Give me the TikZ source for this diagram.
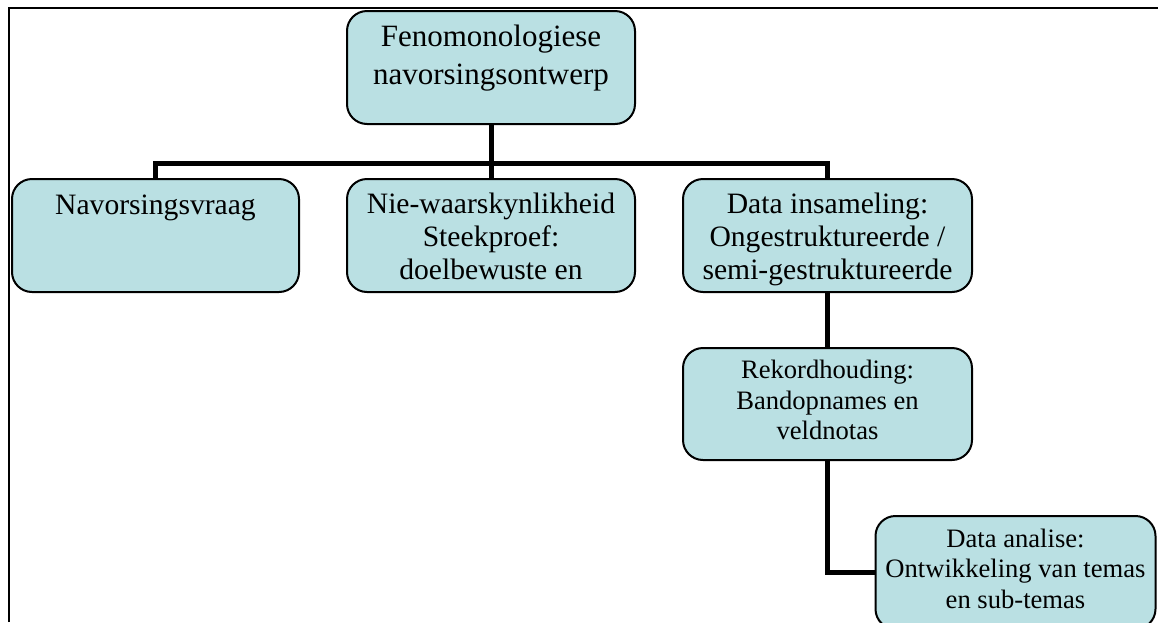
\documentclass[tikz,border=0pt]{standalone}
\usepackage{fontspec}
\setmainfont{Liberation Serif}
\usepackage{tikz}
\definecolor{blokblou}{RGB}{186,224,227}
\newcommand{\groot}{\fontsize{15.5}{19}\selectfont}
\newcommand{\gewoon}{\fontsize{14.8}{19}\selectfont}
\newcommand{\middel}{\fontsize{14.8}{16.5}\selectfont}
\newcommand{\klein}{\fontsize{13.3}{15.25}\selectfont}
\newcommand{\tekst}[3]{\parbox[t][56pt][t]{140pt}{\centering#1\vspace*{#2}\strut#3}}

\begin{document}
\begin{tikzpicture}[x=0.5pt,y=-0.5pt,
   blok/.style={draw,line width=1pt,fill=blokblou,rounded corners=10pt,
                inner sep=0pt,anchor=north,minimum height=56.5pt},
   verbind/.style={line width=2.5pt}]
   \useasboundingbox (0,0) rectangle (1158,622);
   \clip (0,0) rectangle (1158,622);
   \draw[line width=1pt] (9,622) -- (9,8) -- (1158,8);
   \node[blok,minimum width=144pt] (ontwerp) at (491,10)
      {\tekst{\groot}{4.2pt}{Fenomonologiese\\navorsingsontwerp}};
   \node[blok,minimum width=143.5pt] (vraag) at (155.5,178)
      {\tekst{\gewoon}{4.2pt}{Navorsingsvraag}};
   \node[blok,minimum width=144pt] (steekproef) at (491,178)
      {\tekst{\middel}{5.4pt}{Nie-waarskynlikheid\\Steekproef:\\doelbewuste en}};
   \node[blok,minimum width=144.5pt] (insameling) at (827.5,178)
      {\tekst{\middel}{5.4pt}{Data insameling:\\Ongestruktureerde /\\semi-gestruktureerde}};
   \node[blok,minimum width=144.5pt,minimum height=56pt] (rekord) at (827.5,347)
      {\tekst{\klein}{4.8pt}{Rekordhouding:\\Bandopnames en\\veldnotas}};
   \node[blok,minimum width=139.5pt] (analise) at (1015.5,515)
      {\tekst{\klein}{4.8pt}{Data analise:\\Ontwikkeling van temas\\en sub-temas}};
   \coordinate (tak) at (491,163);
   \draw[verbind] (ontwerp.south) -- (tak);
   \draw[verbind] (vraag.north) |- (tak) -| (insameling.north);
   \draw[verbind] (tak) -- (steekproef.north);
   \draw[verbind] (insameling.south) -- (rekord.north);
   \draw[verbind] (rekord.south) |- (analise.west);
\end{tikzpicture}
\end{document}
